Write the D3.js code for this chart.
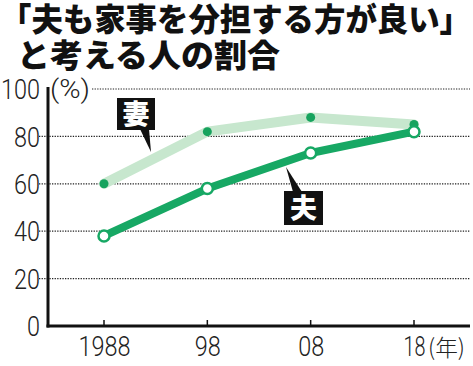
<!DOCTYPE html>
<html><head><meta charset="utf-8">
<script src="https://cdn.jsdelivr.net/npm/d3@7"></script>
<style>body{margin:0;background:#fff}svg{display:block}</style>
</head><body>
<svg id="c" width="473" height="366"></svg>
<script>
const years = [1988, 1998, 2008, 2018];
const yearLabels = ["1988", "98", "08", "18"];
const wife = [60, 82, 88, 85];
const husband = [38, 58, 73, 82];
const yTicks = [0, 20, 40, 60, 80, 100];
const titleLines = ["「夫も家事を分担する方が良い」", "と考える人の割合"];

const svg = d3.select("#c");
const x = d3.scaleLinear().domain([1988, 2018]).range([104, 414]);
const y = d3.scaleLinear().domain([0, 100]).range([326, 89]);
const numFont = "Roboto, 'Liberation Sans', sans-serif";
const jpFont = "'Noto Sans CJK JP', sans-serif";
const digitW = 13;

// title
svg.append("text").attr("x", 0).attr("y", 31).attr("font-family", jpFont)
  .attr("font-weight", 900).attr("font-size", 32).attr("fill", "#111")
  .attr("textLength", 471).attr("lengthAdjust", "spacingAndGlyphs").text(titleLines[0]);
svg.append("text").attr("x", 17).attr("y", 67).attr("font-family", jpFont)
  .attr("font-weight", 900).attr("font-size", 32).attr("fill", "#111")
  .attr("textLength", 263).attr("lengthAdjust", "spacingAndGlyphs").text(titleLines[1]);

// gridlines
yTicks.filter(d => d > 0).forEach(d => {
  svg.append("line").attr("x1", d === 100 ? 92 : 39).attr("x2", 470)
    .attr("y1", y(d)).attr("y2", y(d))
    .attr("stroke", "#222").attr("stroke-width", 1.2).attr("stroke-dasharray", "1.3,1.3");
});

// y tick labels
const yAxis = d3.axisLeft(y).tickValues(yTicks).tickSize(0).tickPadding(0);
const ya = svg.append("g").attr("transform", "translate(40,0)").call(yAxis);
ya.select(".domain").remove();
ya.selectAll("text").attr("font-family", numFont).attr("font-weight", 300).attr("font-size", 27)
  .attr("fill", "#222").attr("dy", "0.36em").attr("text-anchor", "end")
  .attr("textLength", d => String(d).length * digitW).attr("lengthAdjust", "spacingAndGlyphs");

svg.append("text").attr("x", 50).attr("y", 98).attr("font-family", numFont).attr("font-weight", 300)
  .attr("font-size", 25).attr("fill", "#222").attr("textLength", 40)
  .attr("lengthAdjust", "spacingAndGlyphs").text("(%)");

// axes lines
svg.append("line").attr("x1", 48).attr("x2", 48).attr("y1", 87).attr("y2", 327.5)
  .attr("stroke", "#111").attr("stroke-width", 3);
svg.append("line").attr("x1", 46.5).attr("x2", 470).attr("y1", 326).attr("y2", 326)
  .attr("stroke", "#111").attr("stroke-width", 3);

// x ticks
years.forEach(d => {
  svg.append("line").attr("x1", x(d)).attr("x2", x(d)).attr("y1", 320).attr("y2", 326)
    .attr("stroke", "#111").attr("stroke-width", 1.5);
});
const xAxis = d3.axisBottom(x).tickValues(years).tickSize(0).tickFormat((d, i) => yearLabels[i]).tickPadding(0);
const xg = svg.append("g").attr("transform", "translate(0,356)").call(xAxis);
xg.select(".domain").remove();
xg.selectAll("text").attr("font-family", numFont).attr("font-weight", 300).attr("font-size", 27)
  .attr("fill", "#222").attr("dy", 0).attr("text-anchor", "middle")
  .attr("textLength", (d, i) => yearLabels[i].length * digitW - (i === 3 ? 4 : 0))
  .attr("lengthAdjust", "spacingAndGlyphs");
svg.append("text").attr("x", x(2018) + 14).attr("y", 356).attr("font-family", jpFont)
  .attr("font-weight", 300).attr("font-size", 23).attr("fill", "#222")
  .attr("textLength", 37).attr("lengthAdjust", "spacingAndGlyphs").text("(年)");

// lines
const line = d3.line().x((d, i) => x(years[i])).y(d => y(d));
svg.append("path").datum(wife).attr("d", line).attr("fill", "none")
  .attr("stroke", "#c7e7ce").attr("stroke-width", 10).attr("stroke-linejoin", "round").attr("stroke-linecap", "round");
svg.selectAll(".wdot").data(wife).enter().append("circle")
  .attr("cx", (d, i) => x(years[i])).attr("cy", d => y(d)).attr("r", 4.5).attr("fill", "#17a35e");

svg.append("path").datum(husband).attr("d", line).attr("fill", "none")
  .attr("stroke", "#17a864").attr("stroke-width", 8).attr("stroke-linejoin", "round");
svg.selectAll(".hdot").data(husband).enter().append("circle")
  .attr("cx", (d, i) => x(years[i])).attr("cy", d => y(d)).attr("r", 5.5)
  .attr("fill", "#fff").attr("stroke", "#17a864").attr("stroke-width", 2.5);

// labels
function callout(bx, by, bw, bh, tip, txt) {
  const g = svg.append("g");
  g.append("path").attr("d", tip).attr("fill", "#111");
  g.append("rect").attr("x", bx).attr("y", by).attr("width", bw).attr("height", bh).attr("fill", "#111");
  g.append("text").attr("x", bx + bw / 2).attr("y", by + bh / 2).attr("dy", "0.36em")
    .attr("text-anchor", "middle").attr("font-family", jpFont).attr("font-weight", 900)
    .attr("font-size", 27).attr("fill", "#fff").text(txt);
}
callout(117, 98, 38, 32, "M140,129 L151,152 L149,129 Z", "妻");
callout(284, 191, 39, 34, "M293,192 L286,167 L302,192 Z", "夫");
</script>
</body></html>
